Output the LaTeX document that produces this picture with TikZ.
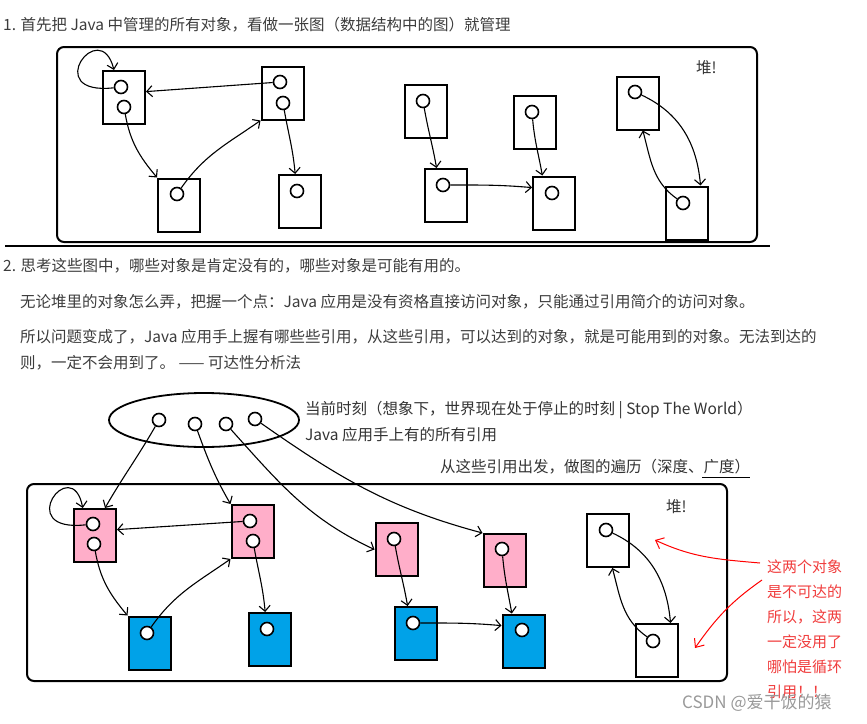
\documentclass[tikz,border=0pt]{standalone}
\usepackage{fontspec}
\setmainfont{Noto Sans CJK SC}
\usetikzlibrary{arrows.meta,shapes.geometric}
\definecolor{objpink}{RGB}{255,174,201}
\definecolor{objblue}{RGB}{0,162,232}
\definecolor{notered}{RGB}{240,60,60}
\definecolor{txtgray}{RGB}{60,60,60}

\begin{document}
\begin{tikzpicture}[x=1pt,y=1pt,
		obj/.style={draw,line width=2pt,minimum width=42pt,minimum height=53pt},
		ref/.style={draw,circle,line width=1.6pt,minimum size=13pt,fill=white},
		heap/.style={draw,line width=2pt,rounded corners=7pt},
		arr/.style={-{Straight Barb[length=5.5pt,width=11pt]},line width=1.1pt},
		redarr/.style={-{Straight Barb[length=7pt,width=12pt]},line width=1pt,red},
		txt/.style={anchor=west,text=txtgray,font=\fontsize{15.5}{18}\selectfont},
		lbl/.style={anchor=west,text=black!80,font=\fontsize{15.5}{18}\selectfont}]
					\tikzstyle{every node}+=[inner sep=0pt]
					\useasboundingbox (0,0) rectangle (867,-723);
					% part 1
					\node [txt] (t1) at (3,-25) {1. 首先把 Java 中管理的所有对象，看做一张图（数据结构中的图）就管理};
					\node [heap,minimum width=700pt,minimum height=195pt] (heapA) at (407,-144.5) {};
					\draw [line width=2.5pt] (5,-246) -- (770,-246);
					\node [lbl] (heapAname) at (696,-68) {堆!};
					\node [obj] (A) at (124,-97.5) {};
					\node [obj] (B) at (282.5,-93) {};
					\node [obj] (C) at (179,-205) {};
					\node [obj] (D) at (300,-201.5) {};
					\node [obj] (E) at (426,-111.5) {};
					\node [obj] (F) at (445.5,-195.5) {};
					\node [obj] (G) at (534.5,-122) {};
					\node [obj] (H) at (554,-203) {};
					\node [obj] (I) at (638,-103) {};
					\node [obj] (J) at (686.5,-213) {};
					\node [ref] (a1) at (121,-87) {};
					\node [ref] (a2) at (124,-107) {};
					\node [ref] (b1) at (280,-82) {};
					\node [ref] (b2) at (283,-103) {};
					\node [ref] (c1) at (177,-194) {};
					\node [ref] (d1) at (297,-191) {};
					\node [ref] (e1) at (423,-101) {};
					\node [ref] (f1) at (443,-185) {};
					\node [ref] (g1) at (532,-112) {};
					\node [ref] (h1) at (552,-193) {};
					\node [ref] (i1) at (635,-92) {};
					\node [ref] (j1) at (683,-203) {};
					\draw [arr] (a1) .. controls (40,-96) and (100,-15) .. (A.110);
					\draw [arr] (b1) -- (A.15);
					\draw [arr] (a2) to[out=-80,in=130] (C.north west);
					\draw [arr] (c1) to[out=55,in=-145] (B.south west);
					\draw [arr] (b2) to[out=-80,in=95] (D.100);
					\draw [arr] (e1) to[out=-80,in=100] (F.108);
					\draw [arr] (f1) to[out=0,in=175] (H.145);
					\draw [arr] (g1) to[out=-85,in=100] (H.113);
					\draw [arr] (i1) to[out=-25,in=95] (J.63);
					\draw [arr] (j1) to[out=145,in=-75] (I.-80);
					% part 2
					\node [txt] (t2) at (3,-266) {2. 思考这些图中，哪些对象是肯定没有的，哪些对象是可能有用的。};
					\node [txt] (t3) at (20,-302) {无论堆里的对象怎么弄，把握一个点：Java 应用是没有资格直接访问对象，只能通过引用简介的访问对象。};
					\node [txt] (t4) at (20,-337) {所以问题变成了，Java 应用手上握有哪些些引用，从这些引用，可以达到的对象，就是可能用到的对象。无法到达的};
					\node [txt] (t5) at (20,-363) {则，一定不会用到了。 —— 可达性分析法};
					\node [draw,ellipse,line width=1.8pt,minimum width=190pt,minimum height=54pt] (roots) at (204,-420) {};
					\node [ref] (r1) at (159,-420) {};
					\node [ref] (r2) at (195,-424) {};
					\node [ref] (r3) at (226,-424) {};
					\node [ref] (r4) at (255,-419) {};
					\node [lbl] (now) at (305,-410) {当前时刻（想象下，世界现在处于停止的时刻 | Stop The World）};
					\node [lbl] (held) at (305,-435) {Java 应用手上有的所有引用};
					\node [lbl] (trav) at (440,-467) {从这些引用出发，做图的遍历（深度、广度）};
					\draw [line width=1.6pt] ([xshift=-48pt,yshift=-3pt]trav.south east) -- ([yshift=-3pt]trav.south east);
					\node [heap,minimum width=700pt,minimum height=197pt] (heapB) at (377,-582.5) {};
					\node [lbl] (heapBname) at (666,-507) {堆!};
					\node [obj,fill=objpink] (lA) at (95,-535.5) {};
					\node [obj,fill=objpink] (lB) at (252.5,-531.5) {};
					\node [obj,fill=objblue] (lC) at (149.5,-643) {};
					\node [obj,fill=objblue] (lD) at (270,-639.5) {};
					\node [obj,fill=objpink] (lE) at (396.5,-549.5) {};
					\node [obj,fill=objblue] (lF) at (415.5,-633.5) {};
					\node [obj,fill=objpink] (lG) at (504.5,-560.5) {};
					\node [obj,fill=objblue] (lH) at (523.5,-641) {};
					\node [obj] (lI) at (608,-540.5) {};
					\node [obj] (lJ) at (656.5,-650.5) {};
					\node [ref] (la1) at (93,-524) {};
					\node [ref] (la2) at (94,-544) {};
					\node [ref] (lb1) at (250,-521) {};
					\node [ref] (lb2) at (253,-541) {};
					\node [ref] (lc1) at (147,-633) {};
					\node [ref] (ld1) at (267,-629) {};
					\node [ref] (le1) at (394,-539) {};
					\node [ref] (lf1) at (413,-623) {};
					\node [ref] (lg1) at (502,-549) {};
					\node [ref] (lh1) at (522,-630) {};
					\node [ref] (li1) at (606,-530) {};
					\node [ref] (lj1) at (653,-641) {};
					\draw [arr] (r1) to[out=-120,in=60] (lA.70);
					\draw [arr] (r2) to[out=-70,in=120] (lB.north west);
					\draw [arr] (r3) to[out=-48,in=155] (lE.west);
					\draw [arr] (r4) to[out=-35,in=165] (lG.north west);
					\draw [arr] (la1) .. controls (12,-533) and (72,-452) .. (lA.114);
					\draw [arr] (lb1) -- (lA.15);
					\draw [arr] (la2) to[out=-80,in=130] (lC.north west);
					\draw [arr] (lc1) to[out=55,in=-145] (lB.south west);
					\draw [arr] (lb2) to[out=-80,in=95] (lD.100);
					\draw [arr] (le1) to[out=-80,in=100] (lF.106);
					\draw [arr] (lf1) to[out=0,in=175] (lH.145);
					\draw [arr] (lg1) to[out=-85,in=100] (lH.113);
					\draw [arr] (li1) to[out=-25,in=95] (lJ.63);
					\draw [arr] (lj1) to[out=145,in=-75] (lI.-81);
					% the note in red
					\node [anchor=north west,align=left,text=notered,font=\fontsize{15}{25}\selectfont] (note) at (767,-559.5) {这两个对象\\是不可达的\\所以，这两\\一定没用了\\哪怕是循环\\引用！！};
					\coordinate (n1) at (760,-563);
					\coordinate (n2) at (762,-580);
					\coordinate (m1) at (655,-540);
					\coordinate (m2) at (695,-648);
					\draw [redarr] (n1) to[out=175,in=-25] (m1);
					\draw [redarr] (n2) to[out=215,in=55] (m2);
					\node [anchor=west,text=black!40,font=\fontsize{17}{20}\selectfont] (mark) at (682,-703) {CSDN @爱干饭的猿};
				\end{tikzpicture}
\end{document}
